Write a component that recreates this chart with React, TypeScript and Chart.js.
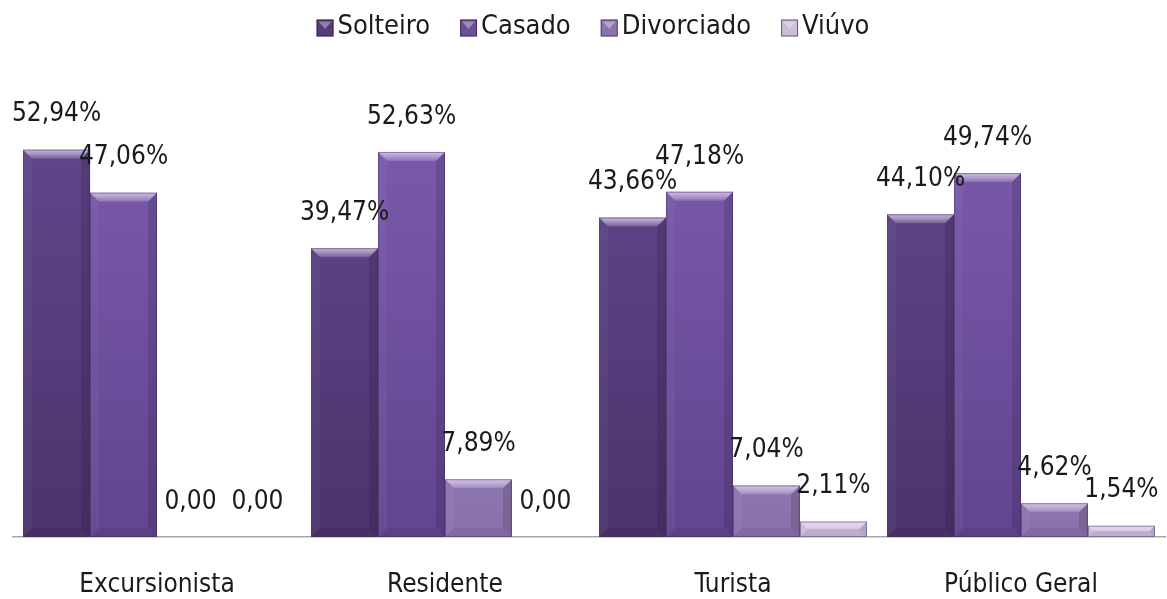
import React, { useEffect, useRef } from "react";
import { Chart, registerables } from "chart.js";

Chart.register(...registerables);

const categories = ["Excursionista", "Residente", "Turista", "Público Geral"];
const seriesNames = ["Solteiro", "Casado", "Divorciado", "Viúvo"];
const solteiro = [52.94, 39.47, 43.66, 44.1];
const casado = [47.06, 52.63, 47.18, 49.74];
const divorciado = [0, 7.89, 7.04, 4.62];
const viuvo = [0, 0, 2.11, 1.54];

const topColors = ["#62488d", "#7c5cad", "#9a82bd", "#ddd2ea"];
const bottomColors = ["#4c336d", "#614590", "#8a72ad", "#c9bcd9"];
const legendColors = ["#553b7a", "#6a4e96", "#8b73ad", "#c9bdd8"];

const FONT = "'Liberation Sans Narrow', 'DejaVu Sans Condensed', 'Open Sans', sans-serif";
const FS = 26;
const LEGEND_FS = 27;

function fmt(v: number): string {
  if (v === 0) return "0,00";
  return v.toFixed(2).replace(".", ",") + "%";
}

const bevelPlugin = {
  id: "bevel",
  afterDatasetsDraw(chart: any) {
    const ctx = chart.ctx;
    chart.data.datasets.forEach((ds: any, di: number) => {
      const meta = chart.getDatasetMeta(di);
      meta.data.forEach((bar: any) => {
        const w = bar.width;
        const x0 = bar.x - w / 2;
        const x1 = bar.x + w / 2;
        const y0 = bar.y;
        const y1 = bar.base;
        const h = y1 - y0;
        if (h < 1) return;
        const b = Math.min(9, h / 2);
        ctx.save();
        ctx.beginPath();
        ctx.moveTo(x0, y0);
        ctx.lineTo(x1, y0);
        ctx.lineTo(x1 - b, y0 + b);
        ctx.lineTo(x0 + b, y0 + b);
        ctx.closePath();
        const g = ctx.createLinearGradient(0, y0, 0, y0 + b);
        g.addColorStop(0, "rgba(235,220,255,0.75)");
        g.addColorStop(1, "rgba(255,255,255,0.15)");
        ctx.fillStyle = g;
        ctx.fill();
        ctx.beginPath();
        ctx.moveTo(x0, y0);
        ctx.lineTo(x0 + b, y0 + b);
        ctx.lineTo(x0 + b, y1 - b);
        ctx.lineTo(x0, y1);
        ctx.closePath();
        ctx.fillStyle = "rgba(255,255,255,0.04)";
        ctx.fill();
        ctx.beginPath();
        ctx.moveTo(x1, y0);
        ctx.lineTo(x1 - b, y0 + b);
        ctx.lineTo(x1 - b, y1 - b);
        ctx.lineTo(x1, y1);
        ctx.closePath();
        ctx.fillStyle = "rgba(0,0,0,0.12)";
        ctx.fill();
        ctx.beginPath();
        ctx.moveTo(x0, y1);
        ctx.lineTo(x0 + b, y1 - b);
        ctx.lineTo(x1 - b, y1 - b);
        ctx.lineTo(x1, y1);
        ctx.closePath();
        ctx.fillStyle = "rgba(0,0,0,0.07)";
        ctx.fill();
        ctx.strokeStyle = "rgba(60,40,90,0.45)";
        ctx.lineWidth = 1;
        ctx.strokeRect(x0 + 0.5, y0 + 0.5, w - 1, h - 1);
        ctx.restore();
      });
    });
  },
};

const labelPlugin = {
  id: "valueLabels",
  afterDraw(chart: any) {
    const ctx = chart.ctx;
    ctx.save();
    ctx.font = `${FS}px ${FONT}`;
    ctx.fillStyle = "#1a1a1a";
    ctx.textAlign = "center";
    ctx.textBaseline = "middle";
    chart.data.datasets.forEach((ds: any, di: number) => {
      const meta = chart.getDatasetMeta(di);
      meta.data.forEach((bar: any, i: number) => {
        ctx.fillText(fmt(ds.data[i]), bar.x, bar.y - 35);
      });
    });
    ctx.restore();
  },
};

const customLegend = {
  id: "customLegend",
  afterDraw(chart: any) {
    const ctx = chart.ctx;
    ctx.save();
    ctx.font = `${LEGEND_FS}px ${FONT}`;
    const box = 17;
    const gapBox = 4;
    const gapItem = 30;
    const widths = seriesNames.map((n) => ctx.measureText(n).width);
    const total =
      widths.reduce((a, w) => a + box + gapBox + w, 0) + gapItem * (seriesNames.length - 1);
    let x = 593 - total / 2;
    const cy = 27;
    seriesNames.forEach((n, i) => {
      const bx = x;
      const by = cy - box / 2 + 1;
      ctx.fillStyle = legendColors[i];
      ctx.fillRect(bx, by, box, box);
      ctx.beginPath();
      ctx.moveTo(bx + 2, by + 2);
      ctx.lineTo(bx + box - 2, by + 2);
      ctx.lineTo(bx + box / 2, by + box / 2 + 1);
      ctx.closePath();
      ctx.fillStyle = "rgba(255,255,255,0.35)";
      ctx.fill();
      ctx.strokeStyle = "rgba(40,25,60,0.6)";
      ctx.lineWidth = 1;
      ctx.strokeRect(bx + 0.5, by + 0.5, box - 1, box - 1);
      ctx.fillStyle = "#1a1a1a";
      ctx.textAlign = "left";
      ctx.textBaseline = "middle";
      ctx.fillText(n, bx + box + gapBox, cy);
      x += box + gapBox + widths[i] + gapItem;
    });
    ctx.restore();
  },
};

export default function App() {
  const ref = useRef<HTMLCanvasElement | null>(null);

  useEffect(() => {
    if (!ref.current) return;
    const values = [solteiro, casado, divorciado, viuvo];
    const chart = new Chart(ref.current, {
      type: "bar",
      data: {
        labels: categories,
        datasets: seriesNames.map((name, si) => ({
          label: name,
          data: values[si],
          backgroundColor: (c: any) => {
            const area = c.chart.chartArea;
            if (!area) return topColors[si];
            const el = c.element;
            const top = el && isFinite(el.y) ? el.y : area.top;
            const g = c.chart.ctx.createLinearGradient(0, top, 0, area.bottom);
            g.addColorStop(0, topColors[si]);
            g.addColorStop(1, bottomColors[si]);
            return g;
          },
          borderWidth: 0,
          categoryPercentage: 0.93,
          barPercentage: 1,
        })),
      },
      options: {
        animation: false,
        responsive: false,
        maintainAspectRatio: false,
        layout: { padding: { left: 13, right: 2, top: 98, bottom: 2 } },
        scales: {
          x: {
            grid: { display: false, drawTicks: false },
            border: { display: true, color: "#a6a6a6", width: 1.5 },
            ticks: { font: { size: FS, family: FONT }, color: "#1a1a1a", padding: 33 },
            afterFit: (s: any) => {
              s.height = 60;
            },
          },
          y: {
            display: false,
            min: 0,
            max: 60,
          },
        },
        plugins: {
          legend: { display: false },
          tooltip: { enabled: false },
        },
      },
      plugins: [bevelPlugin, labelPlugin, customLegend],
    });
    return () => chart.destroy();
  }, []);

  return (
    <div style={{ position: "fixed", left: 0, top: 0, width: 1167, height: 599, background: "#fff" }}>
      <canvas ref={ref} width={1167} height={599} style={{ width: 1167, height: 599 }} />
    </div>
  );
}
